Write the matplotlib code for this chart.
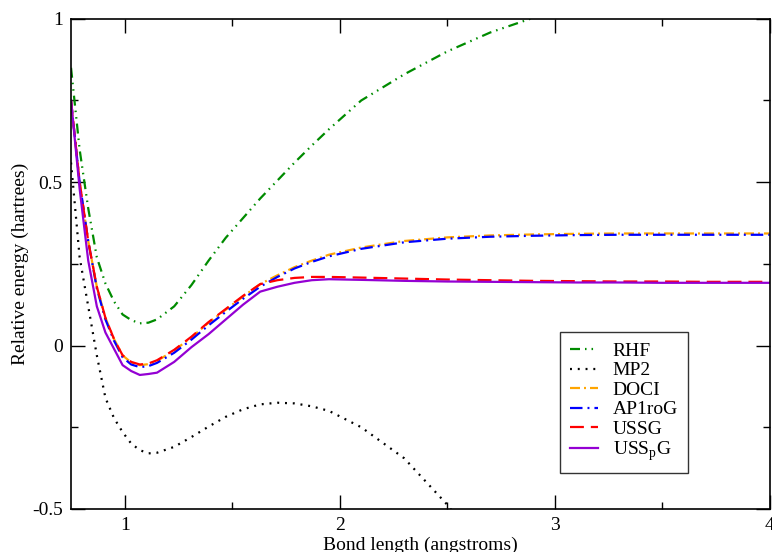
import matplotlib
matplotlib.use("Agg")
import matplotlib.pyplot as plt
from matplotlib.ticker import MultipleLocator, FuncFormatter

plt.rcParams['font.family'] = ['Liberation Serif', 'DejaVu Serif']
plt.rcParams['mathtext.fontset'] = 'custom'
plt.rcParams['mathtext.rm'] = 'Liberation Serif'
plt.rcParams['lines.scale_dashes'] = False

# bond length (angstroms)
bond = [0.75, 0.79, 0.83, 0.87, 0.91, 0.95, 0.99, 1.03, 1.07, 1.11, 1.15, 1.23,
        1.31, 1.39, 1.47, 1.55, 1.63, 1.71, 1.79, 1.87, 1.95, 2.1, 2.3, 2.5,
        2.7, 2.9, 3.1, 3.3, 3.5, 3.7, 4.0]

# relative energies (hartrees)
rhf = [0.85, 0.60, 0.42, 0.27, 0.19, 0.135, 0.095, 0.078, 0.068, 0.07, 0.08, 0.12,
       0.185, 0.26, 0.33, 0.39, 0.45, 0.505, 0.56, 0.612, 0.662, 0.75, 0.83, 0.90,
       0.958, 1.003, 1.04, 1.07, 1.09, 1.11, 1.13]
mp2 = [0.56, 0.27, 0.12, -0.03, -0.16, -0.222, -0.265, -0.30, -0.32, -0.33, -0.328, -0.31,
       -0.28, -0.248, -0.218, -0.195, -0.18, -0.175, -0.177, -0.186, -0.20, -0.25, -0.345, -0.487,
       -0.66, -0.85, -1.05, -1.25, -1.45, -1.65, -1.95]
doci = [0.75, 0.50, 0.32, 0.18, 0.085, 0.02, -0.03, -0.052, -0.06, -0.057, -0.047, -0.015,
        0.025, 0.07, 0.11, 0.15, 0.188, 0.215, 0.24, 0.26, 0.278, 0.30, 0.32, 0.331,
        0.337, 0.34, 0.342, 0.343, 0.343, 0.343, 0.343]
ap1rog = [0.75, 0.50, 0.32, 0.175, 0.08, 0.015, -0.036, -0.058, -0.066, -0.063, -0.053, -0.022,
          0.018, 0.062, 0.103, 0.143, 0.18, 0.21, 0.236, 0.256, 0.273, 0.296, 0.316, 0.327,
          0.333, 0.336, 0.338, 0.339, 0.339, 0.339, 0.339]
ussg = [0.75, 0.50, 0.32, 0.18, 0.085, 0.02, -0.03, -0.05, -0.058, -0.055, -0.045, -0.013,
        0.027, 0.072, 0.112, 0.152, 0.188, 0.20, 0.207, 0.21, 0.21, 0.208, 0.205, 0.202,
        0.20, 0.198, 0.197, 0.196, 0.196, 0.195, 0.195]
usspg = [0.75, 0.48, 0.26, 0.12, 0.04, -0.01, -0.06, -0.078, -0.09, -0.087, -0.083, -0.05,
         -0.005, 0.035, 0.08, 0.125, 0.165, 0.18, 0.192, 0.20, 0.203, 0.201, 0.198, 0.196,
         0.195, 0.194, 0.193, 0.193, 0.192, 0.192, 0.192]

fig = plt.figure(figsize=(7.72, 5.52), dpi=100)
ax = fig.add_axes([0.092, 0.078, 0.905, 0.888])

lw = 1.6
ax.plot(bond, rhf, color='#008b00', lw=lw, dashes=(7.2, 3.6, 1.1, 3.6, 1.1, 3.6),
        dash_capstyle='butt', label='RHF')
ax.plot(bond, mp2, color='black', lw=lw, dashes=(1.4, 4.2),
        dash_capstyle='butt', label='MP2')
ax.plot(bond, doci, color='#ffa500', lw=lw, dashes=(7.2, 2.9, 1.4, 2.9),
        dash_capstyle='butt', label='DOCI')
ax.plot(bond, ap1rog, color='#0000ff', lw=lw, dashes=(9.0, 3.6, 1.4, 3.6),
        dash_capstyle='butt', label='AP1roG')
ax.plot(bond, ussg, color='#ff0000', lw=lw, dashes=(10.0, 5.0),
        dash_capstyle='butt', label='USSG')
ax.plot(bond, usspg, color='#9400d3', lw=lw, label=r'USS$_\mathrm{p}$G')

ax.set_xlim(0.75, 4)
ax.set_ylim(-0.5, 1)
ax.xaxis.set_major_locator(MultipleLocator(1))
ax.xaxis.set_minor_locator(MultipleLocator(0.5))
ax.yaxis.set_major_locator(MultipleLocator(0.5))
ax.yaxis.set_minor_locator(MultipleLocator(0.25))
ax.yaxis.set_major_formatter(FuncFormatter(lambda v, p: '%g' % v))
ax.xaxis.set_major_formatter(FuncFormatter(lambda v, p: '%g' % v))
ax.tick_params(which='both', direction='in', top=True, right=True, labelsize=14, width=1)
ax.tick_params(which='major', length=10, pad=6)
ax.tick_params(which='minor', length=5)
for s in ax.spines.values():
    s.set_linewidth(1.2)

ax.set_xlabel('Bond length (angstroms)', fontsize=14, labelpad=2)
ax.set_ylabel('Relative energy (hartrees)', fontsize=14, labelpad=2)

leg = ax.legend(loc='lower left', bbox_to_anchor=(0.70, 0.073), fontsize=14,
                fancybox=False, framealpha=1, edgecolor='#333333',
                handlelength=1.45, handletextpad=0.75, labelspacing=0.1,
                borderpad=0.5, borderaxespad=0)
leg.get_frame().set_linewidth(1.0)

fig.savefig('out.png', dpi=100)
